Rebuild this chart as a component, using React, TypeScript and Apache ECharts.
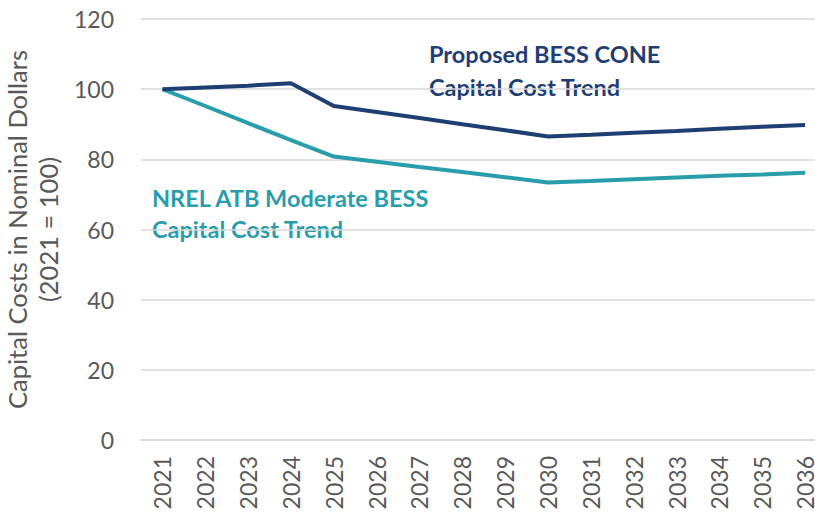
import React, { useEffect, useRef } from "react";
import * as echarts from "echarts";

const years = ["2021","2022","2023","2024","2025","2026","2027","2028","2029","2030","2031","2032","2033","2034","2035","2036"];
const proposed = [100, 100.5, 101, 101.7, 95.2, 93.5, 91.8, 90.0, 88.3, 86.5, 87.0, 87.6, 88.1, 88.7, 89.3, 89.8];
const nrel = [100, 95.2, 90.3, 85.5, 80.8, 79.3, 77.8, 76.4, 74.9, 73.4, 73.8, 74.3, 74.8, 75.3, 75.7, 76.2];
const yTicks = { min: 0, max: 120, interval: 20 };
const yName = "Capital Costs in Nominal Dollars\n(2021 = 100)";
const proposedLabel = ["Proposed BESS CONE", "Capital Cost Trend"];
const nrelLabel = ["NREL ATB Moderate BESS", "Capital Cost Trend"];

const NAVY = "#1F3E73";
const TEAL = "#2A9DAB";
const GRAY = "#595959";
const FONT = "Lato, 'Open Sans', sans-serif";

export default function App() {
  const ref = useRef<HTMLDivElement>(null);
  useEffect(() => {
    if (!ref.current) return;
    const chart = echarts.init(ref.current, undefined, { renderer: "svg" });
    chart.setOption({
      animation: false,
      grid: { left: 141, right: 3.5, top: 19, bottom: 76, containLabel: false, outerBoundsMode: "none" },
      xAxis: {
        type: "category",
        data: years,
        boundaryGap: true,
        axisLine: { lineStyle: { color: "#D9D9D9", width: 1.5 } },
        axisTick: { show: false },
        axisLabel: { rotate: 90, color: GRAY, fontSize: 23, lineHeight: 16, fontFamily: FONT, margin: 16, interval: 0 },
      },
      yAxis: {
        type: "value",
        min: yTicks.min,
        max: yTicks.max,
        interval: yTicks.interval,
        name: yName,
        nameLocation: "middle",
        nameGap: 72,
        nameTextStyle: { color: GRAY, fontSize: 25.5, fontFamily: FONT, lineHeight: 31 },
        axisLine: { show: false },
        axisTick: { show: false },
        axisLabel: { color: GRAY, fontSize: 23, fontFamily: FONT, margin: 27 },
        splitLine: { lineStyle: { color: "#D9D9D9", width: 1.5 } },
      },
      series: [
        {
          type: "line",
          data: proposed,
          symbol: "none",
          lineStyle: { color: NAVY, width: 4 },
          itemStyle: { color: NAVY },
          z: 3,
        },
        {
          type: "line",
          data: nrel,
          symbol: "none",
          lineStyle: { color: TEAL, width: 4 },
          itemStyle: { color: TEAL },
          z: 2,
        },
      ],
      graphic: [
        { type: "text", left: 429, top: 37, style: { text: proposedLabel.join("\n"), fill: NAVY, font: `bold 23.5px ${FONT}`, lineHeight: 33 } },
        { type: "text", left: 152, top: 182, style: { text: nrelLabel.join("\n"), fill: TEAL, font: `bold 23.5px ${FONT}`, lineHeight: 31.5 } },
      ],
    });
    return () => chart.dispose();
  }, []);
  return (
    <div style={{ position: "fixed", left: 0, top: 0, width: 815, height: 516, overflow: "hidden", background: "#fff" }}>
      <div ref={ref} style={{ width: 830, height: 516 }} />
    </div>
  );
}
